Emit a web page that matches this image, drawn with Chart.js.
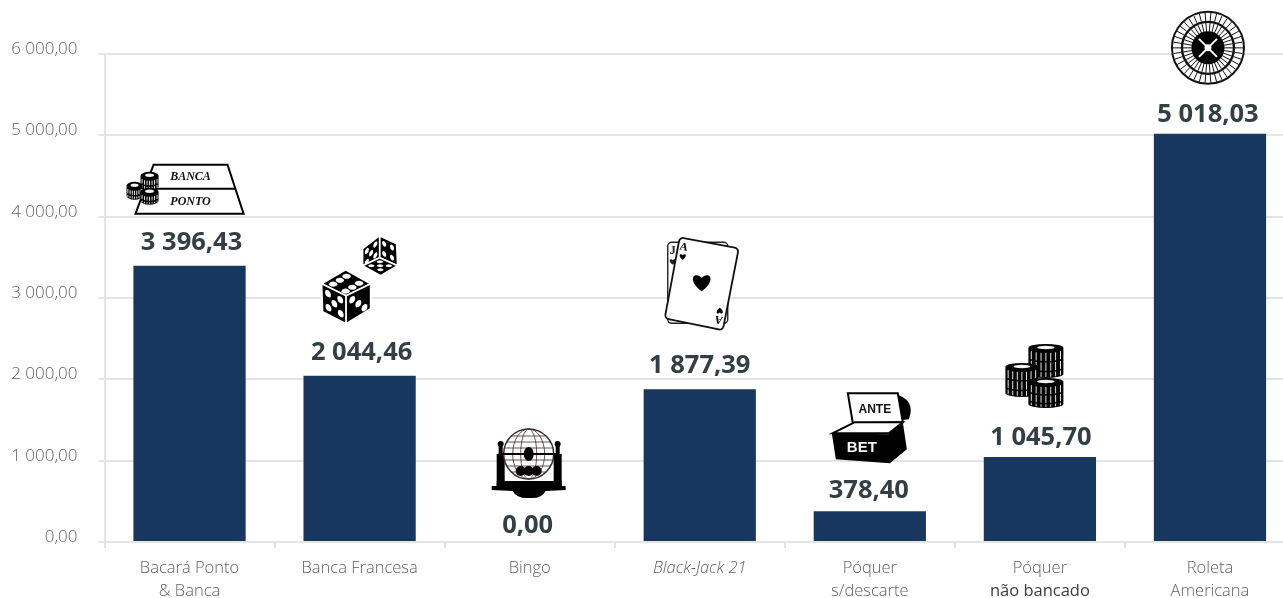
<!DOCTYPE html>
<html lang="pt">
<head>
<meta charset="utf-8">
<title>Jogos de casino</title>
<script src="https://cdn.jsdelivr.net/npm/chart.js@4"></script>
<style>
  html, body { margin: 0; padding: 0; background: #fff; overflow: hidden; }
  #wrap { width: 1300px; height: 598px; }
</style>
</head>
<body>
<div id="wrap"><canvas id="myChart" width="1300" height="598"></canvas></div>
<script>
const categories = [
  ["Bacará Ponto", "& Banca"],
  ["Banca Francesa"],
  ["Bingo"],
  ["Black-Jack 21"],
  ["Póquer", "s/descarte"],
  ["Póquer", "não bancado"],
  ["Roleta", "Americana"],
];
const values = [3396.43, 2044.46, 0, 1877.39, 378.4, 1045.7, 5018.03];
const yTicks = [0, 1000, 2000, 3000, 4000, 5000, 6000];

// distancia de cada rotulo ao topo da barra e deslocamento lateral
const labelLift = [23, 23, 16, 24, 20, 19, 19];
const labelShift = [2, 2, -2, 0, -1, 1, -2];

const BAR_COLOR = "#17375e";
const GRID_COLOR = "#e4e4e4";
const TICK_COLOR = "#5f5f5f";
const LABEL_COLOR = "#333f44";

// 3 396,43
function formatPt(v) {
  const parts = v.toFixed(2).split(".");
  return parts[0].replace(/\B(?=(\d{3})+$)/g, " ") + "," + parts[1];
}

function poly(ctx, pts) {
  ctx.beginPath();
  pts.forEach((p, i) => (i ? ctx.lineTo(p[0], p[1]) : ctx.moveTo(p[0], p[1])));
  ctx.closePath();
}

function heart(ctx, x, y, s) {
  ctx.beginPath();
  ctx.moveTo(x, y + s);
  ctx.bezierCurveTo(x - s * 1.5, y - s * 0.1, x - s * 0.8, y - s * 1.1, x, y - s * 0.35);
  ctx.bezierCurveTo(x + s * 0.8, y - s * 1.1, x + s * 1.5, y - s * 0.1, x, y + s);
  ctx.closePath();
  ctx.fill();
}

// pilha de fichas
function chipStack(ctx, x, top, w, h) {
  const rx = w / 2;
  const ry = 4;
  ctx.fillStyle = "#000";
  ctx.beginPath();
  ctx.ellipse(x, top + ry, rx, ry, 0, Math.PI, 0);
  ctx.lineTo(x + rx, top + h - ry);
  ctx.ellipse(x, top + h - ry, rx, ry, 0, 0, Math.PI);
  ctx.closePath();
  ctx.fill();
  ctx.strokeStyle = "#fff";
  ctx.lineWidth = 0.9;
  ctx.setLineDash([h / 4.2, 1.6]);
  for (let i = -3; i <= 3; i++) {
    const sx = x + (i / 3.6) * rx;
    const curve = ry * Math.sqrt(1 - Math.pow(i / 3.6, 2));
    ctx.beginPath();
    ctx.moveTo(sx, top + ry + curve + 1);
    ctx.lineTo(sx, top + h - ry + curve - 1);
    ctx.stroke();
  }
  ctx.setLineDash([]);
  ctx.fillStyle = "#f2f2f2";
  ctx.beginPath();
  ctx.ellipse(x, top + ry - 0.5, rx * 0.5, ry * 0.42, 0, 0, Math.PI * 2);
  ctx.fill();
}

function bancaIcon(ctx, x, y) {
  ctx.fillStyle = "#fff";
  ctx.strokeStyle = "#000";
  ctx.lineWidth = 2;
  poly(ctx, [[x - 36, y - 101], [x + 38, y - 101], [x + 54, y - 52], [x - 54, y - 52]]);
  ctx.fill();
  ctx.stroke();
  ctx.beginPath();
  ctx.moveTo(x - 44, y - 77);
  ctx.lineTo(x + 46, y - 77);
  ctx.stroke();
  ctx.fillStyle = "#111";
  ctx.font = "italic bold 12px 'Liberation Serif'";
  ctx.textAlign = "center";
  ctx.textBaseline = "middle";
  ctx.fillText("BANCA", x + 1, y - 89);
  ctx.fillText("PONTO", x + 1, y - 64);
  chipStack(ctx, x - 40, y - 94, 18, 19);
  chipStack(ctx, x - 55, y - 84, 16, 18);
  chipStack(ctx, x - 40, y - 78, 18, 17);
}

function dieFace(ctx, a, b, c, d, pips) {
  ctx.fillStyle = "#000";
  ctx.strokeStyle = "#fff";
  ctx.lineWidth = 1.6;
  poly(ctx, [a, b, c, d]);
  ctx.fill();
  ctx.stroke();
  ctx.fillStyle = "#fff";
  pips.forEach((p) => {
    ctx.save();
    ctx.transform(b[0] - a[0], b[1] - a[1], d[0] - a[0], d[1] - a[1], a[0], a[1]);
    ctx.beginPath();
    ctx.arc(p[0], p[1], 0.12, 0, Math.PI * 2);
    ctx.restore();
    ctx.fill();
  });
}

const PIP_6 = [[0.25, 0.22], [0.25, 0.5], [0.25, 0.78], [0.75, 0.22], [0.75, 0.5], [0.75, 0.78]];
const PIP_5 = [[0.25, 0.25], [0.75, 0.25], [0.5, 0.5], [0.25, 0.75], [0.75, 0.75]];
const PIP_4 = [[0.27, 0.27], [0.73, 0.27], [0.27, 0.73], [0.73, 0.73]];
const PIP_3 = [[0.25, 0.25], [0.5, 0.5], [0.75, 0.75]];

function diceIcon(ctx, x, y) {
  const p = (dx, dy) => [x + dx, y + dy];
  // dado grande
  dieFace(ctx, p(-14, -106), p(11, -92), p(-13.5, -80), p(-38, -92), PIP_6);
  dieFace(ctx, p(-38, -92), p(-13.5, -80), p(-13.5, -52), p(-37, -64), PIP_5);
  dieFace(ctx, p(-13.5, -80), p(11, -92), p(11, -67), p(-13.5, -52), PIP_3);
  // dado pequeno, invertido
  dieFace(ctx, p(20, -140), p(37, -132), p(38, -110), p(20, -118), PIP_4);
  dieFace(ctx, p(20, -140), p(3, -127), p(3, -110), p(20, -118), PIP_5);
  dieFace(ctx, p(20, -118), p(38, -110), p(21, -100), p(3, -110), PIP_5);
}

function bingoIcon(ctx, x, y) {
  const cy = y - 88;
  ctx.fillStyle = "#000";
  // colunas e base
  ctx.fillRect(x - 33, cy, 8, 32);
  ctx.fillRect(x + 24, cy, 8, 32);
  ctx.fillRect(x - 31, cy - 12, 4, 14);
  ctx.fillRect(x + 26, cy - 12, 4, 14);
  ctx.beginPath();
  ctx.ellipse(x - 29, cy - 10, 3, 3, 0, 0, Math.PI * 2);
  ctx.ellipse(x + 28, cy - 10, 3, 3, 0, 0, Math.PI * 2);
  ctx.fill();
  ctx.beginPath();
  ctx.moveTo(x - 38, cy + 32);
  ctx.lineTo(x + 36, cy + 32);
  ctx.lineTo(x + 36, cy + 36);
  ctx.lineTo(x + 16, cy + 37);
  ctx.quadraticCurveTo(x + 12, cy + 45, x, cy + 44);
  ctx.quadraticCurveTo(x - 13, cy + 45, x - 17, cy + 37);
  ctx.lineTo(x - 38, cy + 36);
  ctx.closePath();
  ctx.fill();
  ctx.fillRect(x - 33, cy + 27, 65, 6);
  // globo
  ctx.fillStyle = "#fff";
  ctx.strokeStyle = "#3d2b2b";
  ctx.lineWidth = 1.5;
  ctx.beginPath();
  ctx.ellipse(x - 1, cy, 25, 25, 0, 0, Math.PI * 2);
  ctx.fill();
  ctx.stroke();
  ctx.lineWidth = 0.8;
  [8, 16].forEach((rx) => {
    ctx.beginPath();
    ctx.ellipse(x - 1, cy, rx, 25, 0, 0, Math.PI * 2);
    ctx.stroke();
  });
  [-18, -12, -6, 6, 12, 18].forEach((dy) => {
    const half = Math.sqrt(625 - dy * dy);
    ctx.beginPath();
    ctx.moveTo(x - 1 - half, cy + dy);
    ctx.lineTo(x - 1 + half, cy + dy);
    ctx.stroke();
  });
  ctx.fillStyle = "#000";
  ctx.fillRect(x - 31, cy - 1, 60, 2);
  ctx.beginPath();
  ctx.ellipse(x - 1, cy, 5, 7, 0, 0, Math.PI * 2);
  ctx.fill();
  [-8, 0, 8].forEach((dx) => {
    ctx.beginPath();
    ctx.arc(x - 1 + dx, cy + 17, 5, 0, Math.PI * 2);
    ctx.fill();
  });
}

function roundedPoly(ctx, pts, r) {
  ctx.beginPath();
  const n = pts.length;
  const mid = (a, b) => [(a[0] + b[0]) / 2, (a[1] + b[1]) / 2];
  const start = mid(pts[n - 1], pts[0]);
  ctx.moveTo(start[0], start[1]);
  pts.forEach((p, i) => {
    const next = mid(p, pts[(i + 1) % n]);
    ctx.arcTo(p[0], p[1], next[0], next[1], r);
  });
  ctx.closePath();
}

function cardsIcon(ctx, x, y) {
  const p = (dx, dy) => [x + dx, y + dy];
  ctx.fillStyle = "#fff";
  ctx.strokeStyle = "#222";
  ctx.lineWidth = 1.4;
  // carta de tras
  roundedPoly(ctx, [p(-32, -147), p(28, -147), p(28, -66), p(-32, -66)], 4);
  ctx.fill();
  ctx.stroke();
  ctx.fillStyle = "#222";
  ctx.font = "bold 12px 'Liberation Serif'";
  ctx.textAlign = "center";
  ctx.textBaseline = "middle";
  ctx.fillText("J", x - 27, y - 138);
  heart(ctx, x - 27, y - 128, 3.5);
  // carta da frente
  ctx.fillStyle = "#fff";
  ctx.strokeStyle = "#111";
  ctx.lineWidth = 1.8;
  roundedPoly(ctx, [p(-20, -152), p(39, -141), p(23, -59), p(-35, -71)], 4);
  ctx.fill();
  ctx.stroke();
  ctx.fillStyle = "#000";
  heart(ctx, x + 2, y - 108, 10);
  ctx.font = "bold 11px 'Liberation Serif'";
  ctx.save();
  ctx.translate(x - 16, y - 142);
  ctx.rotate(0.2);
  ctx.fillText("A", 0, 0);
  ctx.restore();
  heart(ctx, x - 17, y - 133, 3.5);
  ctx.save();
  ctx.translate(x + 19, y - 70);
  ctx.rotate(Math.PI + 0.2);
  ctx.fillText("A", 0, 0);
  ctx.restore();
  ctx.save();
  ctx.translate(x + 20, y - 78);
  ctx.rotate(Math.PI);
  heart(ctx, 0, 0, 3.5);
  ctx.restore();
}

function anteBetIcon(ctx, x0, y) {
  const x = x0 + 3;
  const p = (dx, dy) => [x + dx, y + dy];
  // tampa
  ctx.fillStyle = "#000";
  ctx.beginPath();
  ctx.moveTo(x + 20, y - 118);
  ctx.quadraticCurveTo(x + 44, y - 112, x + 36, y - 92);
  ctx.lineTo(x + 20, y - 90);
  ctx.closePath();
  ctx.fill();
  ctx.fillStyle = "#fff";
  ctx.strokeStyle = "#000";
  ctx.lineWidth = 2;
  poly(ctx, [p(-25, -118), p(25, -118), p(30, -89), p(-20, -88)]);
  ctx.fill();
  ctx.stroke();
  ctx.fillStyle = "#111";
  ctx.font = "bold 12px 'Liberation Sans'";
  ctx.textAlign = "center";
  ctx.textBaseline = "middle";
  ctx.fillText("ANTE", x + 2, y - 102);
  // caixa
  ctx.fillStyle = "#fff";
  poly(ctx, [p(-40, -78), p(-18, -89), p(30, -89), p(16, -78)]);
  ctx.fill();
  ctx.stroke();
  ctx.fillStyle = "#000";
  poly(ctx, [p(-41, -78), p(16, -77), p(30, -89), p(34, -62), p(17, -48), p(-37, -52)]);
  ctx.fill();
  ctx.fillStyle = "#f4f4f4";
  ctx.font = "bold 15px 'Liberation Sans'";
  ctx.fillText("BET", x - 11, y - 63);
}

function chipsIcon(ctx, x, y) {
  chipStack(ctx, x + 6, y - 113, 35, 34);
  chipStack(ctx, x - 18, y - 94, 33, 34);
  chipStack(ctx, x + 6, y - 79, 35, 30);
}

function rouletteIcon(ctx, x, y) {
  const cy = y - 86;
  const ring = (r, lw) => {
    ctx.lineWidth = lw;
    ctx.beginPath();
    ctx.arc(x - 2, cy, r, 0, Math.PI * 2);
    ctx.stroke();
  };
  ctx.strokeStyle = "#111";
  ctx.fillStyle = "#fff";
  ctx.beginPath();
  ctx.arc(x - 2, cy, 36, 0, Math.PI * 2);
  ctx.fill();
  ring(36, 2);
  ring(26, 2.4);
  // casas e raios da roda
  ctx.lineWidth = 1;
  for (let i = 0; i < 38; i++) {
    const a = (i / 38) * Math.PI * 2;
    [[27, 35], [16, 25]].forEach((seg) => {
      ctx.beginPath();
      ctx.moveTo(x - 2 + Math.cos(a) * seg[0], cy + Math.sin(a) * seg[0]);
      ctx.lineTo(x - 2 + Math.cos(a) * seg[1], cy + Math.sin(a) * seg[1]);
      ctx.stroke();
    });
  }
  ctx.fillStyle = "#000";
  ctx.beginPath();
  ctx.arc(x - 2, cy, 16.5, 0, Math.PI * 2);
  ctx.fill();
  ctx.strokeStyle = "#fff";
  ctx.lineWidth = 2;
  [[-9, -9, 9, 9], [-9, 9, 9, -9]].forEach((l) => {
    ctx.beginPath();
    ctx.moveTo(x - 2 + l[0], cy + l[1]);
    ctx.lineTo(x - 2 + l[2], cy + l[3]);
    ctx.stroke();
  });
  ctx.fillStyle = "#fff";
  ctx.beginPath();
  ctx.arc(x - 2, cy, 3.5, 0, Math.PI * 2);
  ctx.fill();
}

const iconDrawers = [bancaIcon, diceIcon, bingoIcon, cardsIcon, anteBetIcon, chipsIcon, rouletteIcon];

// rotulos de valor, icones e a segunda linha mais escura de "Póquer não bancado"
const barDecorations = {
  id: "barDecorations",
  afterDatasetsDraw(chart) {
    const ctx = chart.ctx;
    const xs = chart.scales.x;
    const ys = chart.scales.y;
    values.forEach((v, i) => {
      const x = xs.getPixelForValue(i);
      const y = ys.getPixelForValue(v);
      ctx.save();
      iconDrawers[i](ctx, x, y);
      ctx.restore();
      ctx.save();
      ctx.fillStyle = LABEL_COLOR;
      ctx.font = "bold 25.5px 'Open Sans'";
      ctx.textAlign = "center";
      ctx.textBaseline = "middle";
      ctx.fillText(formatPt(v), x + labelShift[i], y - labelLift[i]);
      ctx.restore();
    });
    ctx.save();
    ctx.fillStyle = "#3c3c3c";
    ctx.font = "400 16.5px 'Open Sans'";
    ctx.textAlign = "center";
    ctx.textBaseline = "middle";
    ctx.fillText(categories[5][1], xs.getPixelForValue(5), 591);
    ctx.restore();
  },
};

function main() {
  const ctx = document.getElementById("myChart").getContext("2d");
  new Chart(ctx, {
    type: "bar",
    data: {
      labels: categories,
      datasets: [
        {
          data: values,
          backgroundColor: BAR_COLOR,
          categoryPercentage: 1,
          barPercentage: 0.66,
        },
      ],
    },
    plugins: [barDecorations],
    options: {
      responsive: false,
      animation: false,
      layout: { padding: { top: 54, right: 5 } },
      plugins: { legend: { display: false }, tooltip: { enabled: false } },
      scales: {
        x: {
          afterFit(scale) {
            scale.height = 56;
          },
          grid: {
            drawOnChartArea: false,
            color: GRID_COLOR,
            lineWidth: 2,
            tickLength: 6,
          },
          border: { color: GRID_COLOR, width: 2 },
          ticks: {
            padding: 9,
            maxRotation: 0,
            autoSkip: false,
            color: TICK_COLOR,
            font: (c) => ({
              family: "'Open Sans'",
              size: 16.5,
              weight: "300",
              style: c.index === 3 ? "italic" : "normal",
              lineHeight: 1.39,
            }),
            callback(value, index) {
              // a segunda linha deste rotulo e desenhada em barDecorations
              return index === 5 ? [categories[5][0], " "] : categories[index];
            },
          },
        },
        y: {
          min: yTicks[0],
          max: yTicks[yTicks.length - 1],
          afterFit(scale) {
            scale.width = 104.5;
          },
          afterBuildTicks(scale) {
            scale.ticks = yTicks.map((value) => ({ value }));
          },
          grid: {
            color: GRID_COLOR,
            lineWidth: 2,
            tickLength: 6,
          },
          border: { color: GRID_COLOR, width: 2 },
          ticks: {
            padding: 21,
            labelOffset: -5,
            color: TICK_COLOR,
            font: { family: "'Open Sans'", size: 17, weight: "300" },
            callback: (v) => formatPt(v),
          },
        },
      },
    },
  });
}

document.addEventListener("DOMContentLoaded", main);
</script>
</body>
</html>
